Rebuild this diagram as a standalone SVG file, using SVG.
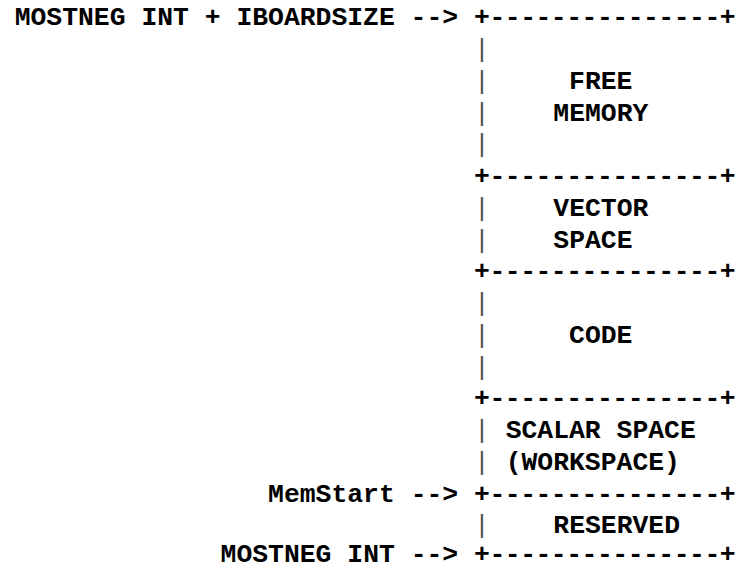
<svg xmlns="http://www.w3.org/2000/svg" width="736" height="568" viewBox="0 0 736 568">
<style>
text{font-family:"Liberation Mono","Courier New",monospace;font-size:26.4px;font-weight:bold;fill:#000}
.bar{font-weight:normal;fill:#555}
</style>
<rect width="736" height="568" fill="#fff"/>
<g id="labels">
<text x="14.7" y="25.3">MOSTNEG INT + IBOARDSIZE --&gt;</text>
<text x="268.1" y="501.55">MemStart --&gt;</text>
<text x="220.6" y="561.5">MOSTNEG INT --&gt;</text>
</g>
<g id="boundaries">
<text x="474.1" y="25.3" textLength="261.5" lengthAdjust="spacing">+---------------+</text>
<text x="474.1" y="184.05" textLength="261.5" lengthAdjust="spacing">+---------------+</text>
<text x="474.1" y="279.3" textLength="261.5" lengthAdjust="spacing">+---------------+</text>
<text x="474.1" y="406.3" textLength="261.5" lengthAdjust="spacing">+---------------+</text>
<text x="474.1" y="501.55" textLength="261.5" lengthAdjust="spacing">+---------------+</text>
<text x="474.1" y="561.5" textLength="261.5" lengthAdjust="spacing">+---------------+</text>
</g>
<g id="free-memory">
<text class="bar" x="474.1" y="57.05">|</text>
<text class="bar" x="474.1" y="88.8">|</text>
<text class="bar" x="474.1" y="120.55">|</text>
<text class="bar" x="474.1" y="152.3">|</text>
<text x="569.1" y="88.8">FREE</text>
<text x="553.3" y="120.55">MEMORY</text>
</g>
<g id="vector-space">
<text class="bar" x="474.1" y="215.8">|</text>
<text class="bar" x="474.1" y="247.55">|</text>
<text x="553.3" y="215.8">VECTOR</text>
<text x="553.3" y="247.55">SPACE</text>
</g>
<g id="code">
<text class="bar" x="474.1" y="311.05">|</text>
<text class="bar" x="474.1" y="342.8">|</text>
<text class="bar" x="474.1" y="374.55">|</text>
<text x="569.1" y="342.8">CODE</text>
</g>
<g id="scalar-space">
<text class="bar" x="474.1" y="438.05">|</text>
<text class="bar" x="474.1" y="469.8">|</text>
<text x="505.7" y="438.05">SCALAR SPACE</text>
<text x="505.7" y="469.8">(WORKSPACE)</text>
</g>
<g id="reserved">
<text class="bar" x="474.1" y="533.3">|</text>
<text x="553.3" y="533.3">RESERVED</text>
</g>
</svg>
